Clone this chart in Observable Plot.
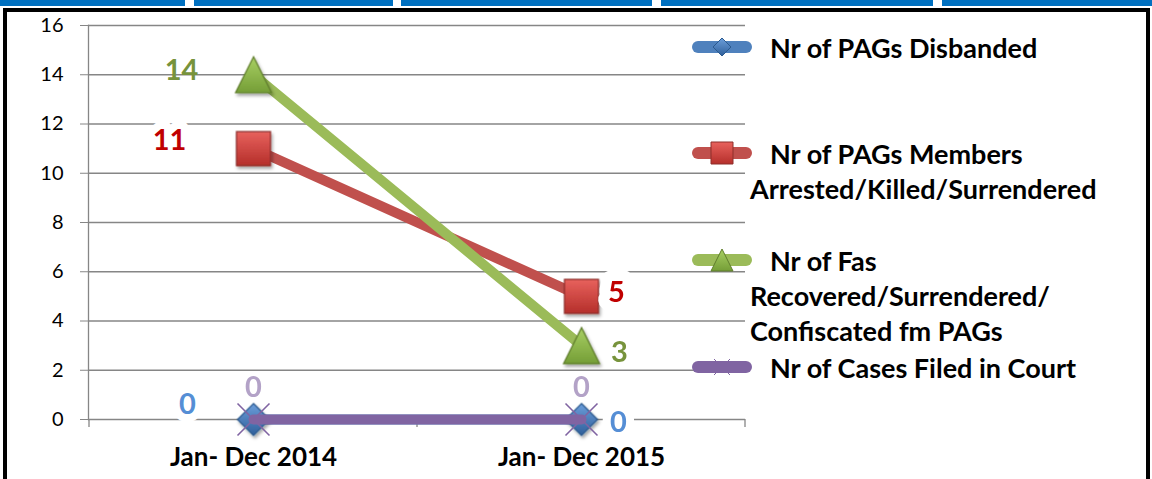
<!DOCTYPE html>
<html>
<head>
<meta charset="utf-8">
<script src="https://cdn.jsdelivr.net/npm/d3@7"></script>
<script src="https://cdn.jsdelivr.net/npm/@observablehq/plot@0.6"></script>
<style>
  html, body { margin: 0; padding: 0; background: #fff; overflow: hidden; }
  #wrap { position: relative; width: 1152px; height: 479px; font-family: Lato, "Open Sans", sans-serif; }
  .bar { position: absolute; top: 0; height: 6px; background: #0070C0; }
  #frame { position: absolute; left: 3px; top: 8px; width: 1139px; height: 480px; border: 4px solid #000; border-bottom: none; pointer-events: none; z-index: 3; }
  #chart { position: absolute; left: 0; top: 0; z-index: 1; }
  .leg { position: absolute; left: 750px; width: 395px; font-weight: bold; font-size: 27px; line-height: 35px; text-indent: 20px; color: #000; z-index: 2; white-space: nowrap; }
  .sw { position: absolute; left: 689px; width: 66px; height: 26px; z-index: 2; overflow: visible; }
</style>
</head>
<body>
<div id="wrap">
  <div class="bar" style="left:0;width:185px"></div>
  <div class="bar" style="left:194px;width:199px"></div>
  <div class="bar" style="left:401px;width:251px"></div>
  <div class="bar" style="left:661px;width:272px"></div>
  <div class="bar" style="left:942px;width:210px"></div>
  <div id="frame"></div>
  <div id="chart"></div>
  <div id="legend"></div>
</div>
<svg width="0" height="0" style="position:absolute">
  <defs>
    <linearGradient id="gDisbanded" x1="0" y1="0" x2="0" y2="1">
      <stop offset="0" stop-color="#6C9EDB"/><stop offset="1" stop-color="#2F5F9A"/>
    </linearGradient>
    <linearGradient id="gMembers" x1="0" y1="0" x2="0" y2="1">
      <stop offset="0" stop-color="#E8625D"/><stop offset="1" stop-color="#B52F2B"/>
    </linearGradient>
    <linearGradient id="gFas" x1="0" y1="0" x2="0" y2="1">
      <stop offset="0" stop-color="#A9D064"/><stop offset="1" stop-color="#759E37"/>
    </linearGradient>
    <filter id="shadow" x="-30%" y="-30%" width="170%" height="170%">
      <feDropShadow dx="1.5" dy="2.5" stdDeviation="1.8" flood-color="#000" flood-opacity="0.35"/>
    </filter>
  </defs>
</svg>
<script>
// ---- data ----
const categories = ["Jan- Dec 2014", "Jan- Dec 2015"];
const seriesKeys = ["disbanded", "members", "fas", "cases"];
const seriesLabels = [
  ["Nr of PAGs Disbanded"],
  ["Nr of PAGs Members", "Arrested/Killed/Surrendered"],
  ["Nr of Fas", "Recovered/Surrendered/", "Confiscated fm PAGs"],
  ["Nr of Cases Filed in Court"]
];
const disbanded = [0, 0];
const members = [11, 5];
const fas = [14, 3];
const cases = [0, 0];
const yTicks = [0, 2, 4, 6, 8, 10, 12, 14, 16];

// ---- styles ----
const lineColor = {disbanded: "#4F81BD", members: "#C0504D", fas: "#9BBB59", cases: "#8064A2"};
const markerFill = {disbanded: "url(#gDisbanded)", members: "url(#gMembers)", fas: "url(#gFas)", cases: "none"};
const markerStroke = {disbanded: "#2C5A8F", members: "#8E2E2B", fas: "#5F7D2C", cases: "#8064A2"};

const valuesBySeries = {disbanded, members, fas, cases};
const rows = seriesKeys.flatMap(k => categories.map((c, i) => ({key: k, cat: c, i, value: valuesBySeries[k][i]})));

// custom symbols: half-extent equals r (size = PI r^2)
const half = size => Math.sqrt(size / Math.PI);
const symDiamond = {draw(ctx, size) { const r = half(size); ctx.moveTo(0, -r); ctx.lineTo(r, 0); ctx.lineTo(0, r); ctx.lineTo(-r, 0); ctx.closePath(); }};
const symSquare = {draw(ctx, size) { const r = half(size); ctx.moveTo(-r, -r); ctx.lineTo(r, -r); ctx.lineTo(r, r); ctx.lineTo(-r, r); ctx.closePath(); }};
const symTriangle = {draw(ctx, size) { const r = half(size); ctx.moveTo(0, -r); ctx.lineTo(r, r); ctx.lineTo(-r, r); ctx.closePath(); }};
const symTimes = {draw(ctx, size) { const r = half(size); ctx.moveTo(-r, -r); ctx.lineTo(r, r); ctx.moveTo(r, -r); ctx.lineTo(-r, r); }};
const symbols = {disbanded: symDiamond, members: symSquare, fas: symTriangle, cases: symTimes};
const markerR = {disbanded: 16, members: 17, fas: 18, cases: 16};

const seriesMarks = seriesKeys.flatMap(k => {
  const data = rows.filter(d => d.key === k);
  return [
    Plot.line(data, {x: "cat", y: "value", stroke: lineColor[k], strokeWidth: 10, strokeLinecap: "round"}),
    Plot.dot(data, {x: "cat", y: "value", symbol: symbols[k], r: markerR[k], fill: markerFill[k], stroke: markerStroke[k], strokeWidth: k === "cases" ? 1.6 : 1.2, className: k === "cases" ? "mk-flat" : "mk-3d"})
  ];
});

function label(key, i, dx, dy, fill, halo) {
  return Plot.text(rows.filter(d => d.key === key && d.i === i), {
    x: "cat", y: "value", text: d => String(d.value), dx, dy,
    fill, fontSize: 29, fontWeight: "bold", fontFamily: "Lato",
    stroke: halo ? "white" : "none", strokeWidth: halo || 0, paintOrder: "stroke", strokeLinejoin: "round"
  });
}

const chart = Plot.plot({
  width: 1152,
  height: 479,
  marginLeft: 88,
  marginRight: 407,
  marginTop: 25,
  marginBottom: 60,
  style: {background: "transparent", fontFamily: "Lato", overflow: "visible"},
  x: {type: "point", domain: categories, padding: 0.5},
  y: {domain: [0, 16]},
  marks: [
    Plot.gridY(yTicks, {stroke: "#868686", strokeOpacity: 1, strokeWidth: 1.3}),
    Plot.frame({anchor: "left", stroke: "#868686", strokeWidth: 1.3}),
    Plot.axisY(yTicks, {tickSize: 8, tickPadding: 17, fontSize: 20, stroke: "#868686", fill: "#000", label: null, tickFormat: d => String(d)}),
    Plot.axisX({tickSize: 0, tickPadding: 28, fontSize: 26, fontWeight: "bold", fill: "#000", label: null}),
    ...seriesMarks,
    label("disbanded", 0, -66, -15, "#558ED5", 16),
    label("disbanded", 1, 37, 3, "#558ED5", 16),
    label("members", 0, -84, -8, "#C00000", 16),
    label("members", 1, 35, -4, "#C00000", 22),
    label("fas", 0, -72, -4, "#77933C", 0),
    label("fas", 1, 38, 7, "#77933C", 0),
    label("cases", 0, 0, -32, "#B3A2C7", 0),
    label("cases", 1, 0, -32, "#B3A2C7", 0)
  ]
});

// drop shadow on the 3D-style markers
d3.select(chart).selectAll(".mk-3d").attr("filter", "url(#shadow)");

// x-axis tick marks between categories (Excel "between tick marks" style), from Plot's scales
const xs = chart.scale("x"), ys = chart.scale("y");
const pos = categories.map(c => xs.apply(c));
const step = pos[1] - pos[0];
const edges = [pos[0] - step / 2, ...pos.map(p => p + step / 2)];
const y0 = ys.apply(0);
d3.select(chart).insert("g", ":first-child")
  .selectAll("line").data(edges).join("line")
  .attr("x1", d => d).attr("x2", d => d)
  .attr("y1", y0).attr("y2", y0 + 8)
  .attr("stroke", "#868686").attr("stroke-width", 1.3);

document.getElementById("chart").appendChild(chart);

// ---- legend ----
const legendCenters = [47, 153, 260, 367];
const legend = document.getElementById("legend");
seriesKeys.forEach((k, idx) => {
  const cy = legendCenters[idx];
  const svg = d3.create("svg").attr("class", "sw").attr("width", 66).attr("height", 26)
    .style("top", (cy - 13) + "px");
  svg.append("line").attr("x1", 9).attr("x2", 57).attr("y1", 13).attr("y2", 13)
    .attr("stroke", lineColor[k]).attr("stroke-width", 12).attr("stroke-linecap", "round");
  const path = d3.path();
  const r = {disbanded: 9, members: 11, fas: 11, cases: 8}[k];
  symbols[k].draw(path, Math.PI * r * r);
  svg.append("path").attr("d", path.toString()).attr("transform", "translate(33,13)")
    .attr("fill", markerFill[k]).attr("stroke", markerStroke[k]).attr("stroke-width", 1);
  legend.appendChild(svg.node());
  const div = document.createElement("div");
  div.className = "leg";
  div.style.top = (cy - 17.5) + "px";
  div.innerHTML = seriesLabels[idx].join("<br>");
  legend.appendChild(div);
});
</script>
</body>
</html>
